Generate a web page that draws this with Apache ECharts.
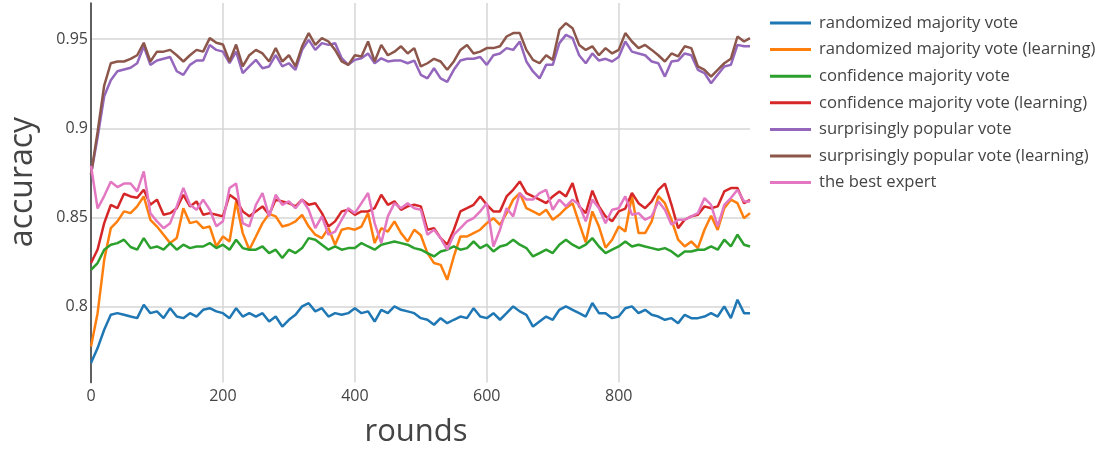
<!DOCTYPE html>
<html>
<head>
<meta charset="utf-8">
<script src="https://cdn.jsdelivr.net/npm/echarts@6/dist/echarts.min.js"></script>
<style>
html,body{margin:0;padding:0;background:#fff;}
#chart{width:1102px;height:449px;}
</style>
</head>
<body>
<div id="chart"></div>
<script>
// rounds sampled every 10 (plus the last round)
const rounds = [];
for (let r = 0; r <= 990; r += 10) rounds.push(r);
rounds.push(999);

const seriesNames = [
  'randomized majority vote',
  'randomized majority vote (learning)',
  'confidence majority vote',
  'confidence majority vote (learning)',
  'surprisingly popular vote',
  'surprisingly popular vote (learning)',
  'the best expert'
];

const randomizedMajority = [
0.7683,0.7767,0.787,0.7954,0.7963,0.7954,0.7944,0.7935,0.801,0.7963,
0.7973,0.7935,0.7991,0.7944,0.7935,0.7963,0.7944,0.7982,0.7991,0.7973,
0.7963,0.7935,0.7991,0.7944,0.7963,0.7944,0.7963,0.7916,0.7944,0.7888,
0.7926,0.7954,0.8001,0.8019,0.7973,0.7991,0.7944,0.7963,0.7954,0.7963,
0.7991,0.7963,0.7973,0.7916,0.7982,0.7963,0.8001,0.7982,0.7973,0.7963,
0.7935,0.7926,0.7898,0.7935,0.7907,0.7926,0.7944,0.7935,0.7991,0.7944,
0.7935,0.7963,0.7926,0.7963,0.8001,0.7973,0.7954,0.7888,0.7916,0.7944,
0.7926,0.7982,0.8001,0.7982,0.7963,0.7944,0.802,0.7963,0.7963,0.7935,
0.7944,0.7991,0.8001,0.7963,0.7982,0.7954,0.7944,0.7926,0.7935,0.7907,
0.7954,0.7935,0.7935,0.7944,0.7963,0.7944,0.8001,0.7935,0.8038,0.7963,0.7963];

const randomizedMajorityLearning = [
0.7776,0.7963,0.8262,0.844,0.8478,0.8534,0.8524,0.8562,0.8618,0.8487,
0.8449,0.8403,0.8356,0.8384,0.8552,0.8468,0.8478,0.844,0.8449,0.8337,
0.8393,0.8365,0.859,0.8412,0.8319,0.8393,0.8468,0.852,0.8506,0.8449,
0.8459,0.8478,0.8515,0.8449,0.8403,0.8384,0.844,0.8347,0.8431,0.844,
0.8431,0.8449,0.8524,0.8356,0.844,0.8421,0.8478,0.8412,0.8365,0.8431,
0.840,0.830,0.8244,0.8234,0.815,0.8281,0.8393,0.8393,0.8412,0.8431,
0.8468,0.8496,0.8459,0.8524,0.860,0.8637,0.8552,0.8534,0.8515,0.8543,
0.8487,0.8515,0.8552,0.858,0.8468,0.836,0.8534,0.8449,0.833,0.8375,
0.8449,0.8421,0.862,0.8412,0.8412,0.8478,0.862,0.858,0.8487,0.8375,
0.8337,0.8365,0.8328,0.8431,0.851,0.843,0.8552,0.860,0.858,0.8496,0.8524];

const confidenceMajority = [
0.8206,0.8244,0.8319,0.8347,0.8356,0.8375,0.8334,0.8319,0.8384,0.8328,
0.8337,0.8319,0.8356,0.8319,0.8347,0.8328,0.8337,0.8337,0.8356,0.8328,
0.8347,0.8319,0.8375,0.8328,0.8319,0.8319,0.8337,0.830,0.8319,0.8272,
0.8319,0.830,0.8328,0.8384,0.8375,0.8347,0.8319,0.8337,0.8319,0.8328,
0.8328,0.8356,0.8337,0.8319,0.8347,0.8356,0.8365,0.8356,0.8347,0.8328,
0.8319,0.830,0.8281,0.8309,0.8319,0.8337,0.8319,0.8328,0.8365,0.8328,
0.8347,0.8309,0.8337,0.8347,0.8375,0.8347,0.8328,0.8281,0.830,0.8319,
0.830,0.8347,0.8375,0.8347,0.8328,0.8347,0.8384,0.8337,0.830,0.8319,
0.8337,0.8365,0.8337,0.8347,0.8337,0.8328,0.8319,0.8328,0.8309,0.8281,
0.8309,0.8309,0.8319,0.8319,0.8337,0.8319,0.8375,0.8337,0.8403,0.8347,0.8337];

const confidenceMajorityLearning = [
0.8244,0.832,0.8468,0.857,0.8552,0.8633,0.8618,0.861,0.8655,0.8571,
0.860,0.8515,0.8524,0.8552,0.8627,0.8562,0.859,0.8515,0.8524,0.8515,
0.8506,0.8627,0.860,0.8534,0.8506,0.8534,0.8562,0.8515,0.860,0.859,
0.858,0.8562,0.860,0.8571,0.858,0.8524,0.8449,0.8478,0.8534,0.8543,
0.8515,0.8534,0.8534,0.8552,0.8627,0.8571,0.859,0.8543,0.8562,0.8571,
0.8562,0.8431,0.844,0.8384,0.8347,0.8431,0.8534,0.8552,0.8571,0.8618,
0.8571,0.8534,0.8534,0.8618,0.8655,0.8702,0.8637,0.8618,0.860,0.858,
0.8618,0.8646,0.8618,0.8693,0.8562,0.8524,0.865,0.8562,0.8506,0.8478,
0.8534,0.855,0.8637,0.858,0.8552,0.859,0.8655,0.869,0.8571,0.844,
0.8487,0.8506,0.8515,0.8562,0.8552,0.8562,0.8646,0.8665,0.8665,0.858,0.8599];

const surprisinglyPopular = [
0.874,0.895,0.918,0.927,0.932,0.933,0.934,0.9365,0.946,0.9356,
0.938,0.939,0.940,0.932,0.930,0.9356,0.938,0.938,0.9468,0.944,
0.943,0.9365,0.943,0.931,0.9347,0.9384,0.9337,0.9347,0.941,0.9347,
0.9365,0.9328,0.944,0.9496,0.944,0.9478,0.9468,0.9478,0.9393,0.9356,
0.9384,0.9393,0.942,0.9365,0.9393,0.9375,0.938,0.938,0.9365,0.938,
0.930,0.928,0.9337,0.928,0.926,0.9328,0.938,0.939,0.939,0.940,
0.9356,0.941,0.942,0.945,0.944,0.9487,0.9375,0.9319,0.928,0.9356,
0.9356,0.9478,0.9524,0.9506,0.941,0.9365,0.942,0.938,0.939,0.9375,
0.940,0.9487,0.943,0.942,0.941,0.9375,0.9365,0.929,0.9375,0.938,
0.942,0.941,0.9328,0.931,0.9253,0.930,0.9347,0.9356,0.9468,0.946,0.946];

const surprisinglyPopularLearning = [
0.874,0.898,0.924,0.9365,0.9375,0.9375,0.939,0.941,0.948,0.9375,
0.943,0.943,0.944,0.941,0.9375,0.941,0.944,0.943,0.9506,0.948,
0.947,0.9375,0.947,0.9347,0.941,0.944,0.942,0.9375,0.945,0.9375,
0.941,0.9347,0.946,0.9534,0.9468,0.9506,0.9487,0.944,0.9375,0.9356,
0.941,0.9403,0.9487,0.9375,0.9468,0.941,0.943,0.946,0.942,0.945,
0.9347,0.9365,0.939,0.9375,0.9328,0.9375,0.944,0.9468,0.942,0.943,
0.945,0.945,0.946,0.9515,0.9534,0.9534,0.944,0.9384,0.9365,0.941,
0.9384,0.9552,0.959,0.9562,0.9468,0.944,0.946,0.941,0.945,0.942,
0.944,0.9534,0.9487,0.945,0.9468,0.944,0.941,0.9375,0.942,0.9403,
0.946,0.945,0.9347,0.9328,0.929,0.9328,0.9365,0.939,0.9515,0.9487,0.9506];

const bestExpert = [
0.879,0.855,0.862,0.870,0.867,0.869,0.869,0.8646,0.8758,0.8524,
0.8478,0.844,0.8468,0.8562,0.8665,0.8571,0.8543,0.860,0.8543,0.845,
0.8478,0.8665,0.869,0.8468,0.845,0.857,0.8637,0.8506,0.8627,0.8571,
0.859,0.8552,0.860,0.8543,0.844,0.8506,0.8403,0.8421,0.8487,0.8552,
0.8524,0.858,0.8637,0.8468,0.8356,0.8506,0.858,0.8552,0.858,0.8552,
0.8543,0.8403,0.8431,0.8384,0.8319,0.8403,0.844,0.8478,0.8496,0.8534,
0.858,0.8337,0.8431,0.8552,0.8506,0.8637,0.860,0.860,0.8637,0.8655,
0.8543,0.860,0.8562,0.860,0.8571,0.8478,0.860,0.8552,0.8468,0.8543,
0.8552,0.8618,0.8515,0.8524,0.8487,0.8506,0.859,0.8543,0.8459,0.8487,
0.8487,0.8506,0.8524,0.8609,0.8571,0.845,0.8571,0.8609,0.8655,0.859,0.859];

const xTicks = [0, 200, 400, 600, 800];
const yTicks = [0.8, 0.85, 0.9, 0.95];

const colors = ['#1f77b4','#ff7f0e','#2ca02c','#d62728','#9467bd','#8c564b','#e377c2'];
const valueSets = [randomizedMajority, randomizedMajorityLearning, confidenceMajority,
  confidenceMajorityLearning, surprisinglyPopular, surprisinglyPopularLearning, bestExpert];

const FONT = '"Open Sans", sans-serif';
const chart = echarts.init(document.getElementById('chart'), null, {renderer: 'canvas'});

const series = seriesNames.map((name, i) => ({
  name: name,
  type: 'line',
  data: rounds.map((r, k) => [r, valueSets[i][k]]),
  symbol: 'none',
  showSymbol: false,
  lineStyle: {width: 2.5, color: colors[i]},
  itemStyle: {color: colors[i]},
  emphasis: {disabled: true}
}));

chart.setOption({
  animation: false,
  backgroundColor: '#fff',
  grid: {left: 91, top: 3, width: 659, height: 379.5, containLabel: false},
  xAxis: {
    type: 'value', min: 0, max: 999, interval: 200,
    axisLine: {show: false},
    axisTick: {show: false},
    axisLabel: {color: '#444', fontFamily: FONT, fontSize: 16, margin: 6, showMaxLabel: false,
      formatter: v => (xTicks.indexOf(v) >= 0 ? String(v) : '')},
    splitLine: {show: true, showMinLine: false, showMaxLine: false, lineStyle: {color: '#d6d6d6', width: 1.5}}
  },
  yAxis: {
    type: 'value', min: 0.7574, max: 0.9703,
    axisLine: {show: true, onZero: false, lineStyle: {color: '#444', width: 1.7}},
    axisTick: {show: false, customValues: yTicks},
    axisLabel: {color: '#444', fontFamily: FONT, fontSize: 16, margin: 3, customValues: yTicks,
      formatter: v => String(Math.round(v * 100) / 100)},
    splitLine: {show: true, lineStyle: {color: '#d6d6d6', width: 1.5}}
  },
  legend: {
    orient: 'vertical', left: 770, top: 13, padding: 0,
    itemWidth: 41, itemHeight: 3, itemGap: 6.6, icon: 'rect',
    textStyle: {color: '#444', fontFamily: FONT, fontSize: 16.6, lineHeight: 20, padding: [0, 0, 0, 3]},
    data: seriesNames
  },
  graphic: [
    {type: 'text', x: 23, y: 182, rotation: Math.PI / 2,
      style: {text: 'accuracy', fill: '#444', font: '32px ' + FONT, align: 'center', verticalAlign: 'middle'}},
    {type: 'text', x: 416, y: 432,
      style: {text: 'rounds', fill: '#444', font: '31px ' + FONT, align: 'center', verticalAlign: 'middle'}}
  ],
  series: series
});
</script>
</body>
</html>
